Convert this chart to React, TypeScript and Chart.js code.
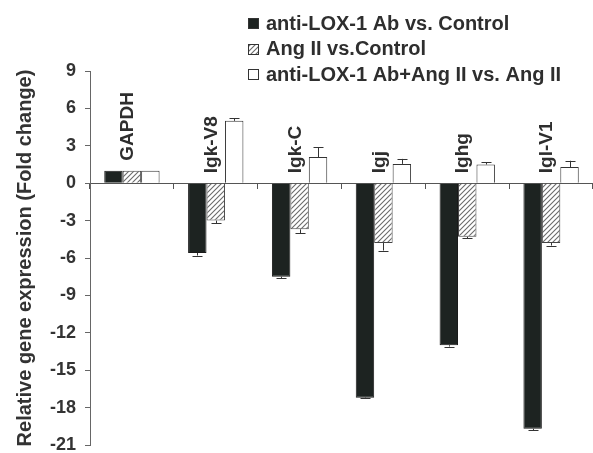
import React, { useEffect, useRef } from "react";
import { Chart, registerables } from "chart.js";

Chart.register(...registerables);

const categories = ["GAPDH", "Igk-V8", "Igk-C", "Igj", "Ighg", "Igl-V1"];
const seriesLabels = [
  "anti-LOX-1 Ab vs. Control",
  "Ang II vs.Control",
  "anti-LOX-1 Ab+Ang II vs. Ang II",
];
const antiLoxVsControl = [1, -5.6, -7.5, -17.2, -13.0, -19.7];
const antiLoxErr = [0, 0.2, 0.1, 0.05, 0.1, 0.1];
const angIIVsControl = [1, -3.0, -3.7, -4.8, -4.3, -4.8];
const angIIErr = [0, 0.2, 0.3, 0.6, 0.1, 0.2];
const combinedVsAngII = [1, 5.0, 2.1, 1.55, 1.5, 1.3];
const combinedErr = [0, 0.2, 0.8, 0.4, 0.2, 0.5];
const yMin = -21;
const yMax = 9;
const yStep = 3;

const FONT = "'Liberation Sans', Arial, sans-serif";

function makeHatch(): CanvasPattern | string {
  const c = document.createElement("canvas");
  const s = 5;
  c.width = s;
  c.height = s;
  const g = c.getContext("2d");
  if (!g) return "#fff";
  g.fillStyle = "#fff";
  g.fillRect(0, 0, s, s);
  g.strokeStyle = "#6a6a6a";
  g.lineWidth = 1.1;
  g.beginPath();
  g.moveTo(0, s);
  g.lineTo(s, 0);
  g.moveTo(-s / 2, s / 2);
  g.lineTo(s / 2, -s / 2);
  g.moveTo(s / 2, s * 1.5);
  g.lineTo(s * 1.5, s / 2);
  g.stroke();
  const p = g.createPattern(c, "repeat");
  return p || "#fff";
}

export default function App() {
  const ref = useRef<HTMLCanvasElement | null>(null);

  useEffect(() => {
    if (!ref.current) return;
    const hatch = makeHatch();
    const errs = [antiLoxErr, angIIErr, combinedErr];

    const errorBars = {
      id: "errorBars",
      afterDatasetsDraw(chart: any) {
        const ctx = chart.ctx;
        const y = chart.scales.y;
        ctx.save();
        ctx.strokeStyle = "#333";
        ctx.lineWidth = 1;
        chart.data.datasets.forEach((ds: any, di: number) => {
          const meta = chart.getDatasetMeta(di);
          ds.data.forEach((v: number, i: number) => {
            const e = errs[di][i];
            if (!e) return;
            const bar = meta.data[i];
            const sign = v >= 0 ? 1 : -1;
            const yEnd = y.getPixelForValue(v + sign * e);
            const x = Math.round(bar.x) + 0.5;
            ctx.beginPath();
            ctx.moveTo(x, bar.y);
            ctx.lineTo(x, yEnd);
            ctx.moveTo(x - 5, Math.round(yEnd) + 0.5);
            ctx.lineTo(x + 5, Math.round(yEnd) + 0.5);
            ctx.stroke();
          });
        });
        ctx.restore();
      },
    };

    const catLabels = {
      id: "catLabels",
      afterDatasetsDraw(chart: any) {
        const ctx = chart.ctx;
        const xs = chart.scales.x;
        const ys = chart.scales.y;
        ctx.save();
        ctx.font = `bold 19px ${FONT}`;
        ctx.fillStyle = "#2e2e2e";
        ctx.textAlign = "left";
        ctx.textBaseline = "middle";
        categories.forEach((c, i) => {
          const anchor = Math.max(0, antiLoxVsControl[i], angIIVsControl[i]);
          const x = xs.getPixelForValue(i) - 4;
          const yy = ys.getPixelForValue(anchor) - 10;
          ctx.save();
          ctx.translate(x, yy);
          ctx.rotate(-Math.PI / 2);
          ctx.fillText(c, 0, 0);
          ctx.restore();
        });
        ctx.restore();
      },
    };

    const customLegend = {
      id: "customLegend",
      afterDraw(chart: any) {
        const ctx = chart.ctx;
        ctx.save();
        ctx.font = `bold 20px ${FONT}`;
        ctx.textAlign = "left";
        ctx.textBaseline = "middle";
        const centers = [23, 48.5, 74];
        chart.data.datasets.forEach((ds: any, di: number) => {
          const cy = centers[di];
          const bx = 248.5;
          const by = Math.round(cy - 5) + 0.5;
          ctx.fillStyle = ds.backgroundColor;
          ctx.fillRect(bx, by, 10, 10);
          ctx.strokeStyle = "#333";
          ctx.lineWidth = 1;
          ctx.strokeRect(bx, by, 10, 10);
          ctx.fillStyle = "#2e2e2e";
          ctx.fillText(ds.label, 266, cy + 1);
        });
        ctx.restore();
      },
    };

    const chart = new Chart(ref.current, {
      type: "bar",
      data: {
        labels: categories,
        datasets: [
          {
            label: seriesLabels[0],
            data: antiLoxVsControl,
            backgroundColor: "#1d2321",
            borderColor: "#1a1a1a",
            borderWidth: 1,
          },
          {
            label: seriesLabels[1],
            data: angIIVsControl,
            backgroundColor: hatch as any,
            borderColor: "#444",
            borderWidth: 1,
          },
          {
            label: seriesLabels[2],
            data: combinedVsAngII,
            backgroundColor: "#ffffff",
            borderColor: "#333",
            borderWidth: 1,
          },
        ],
      },
      options: {
        animation: false,
        responsive: false,
        devicePixelRatio: 1,
        layout: { padding: { top: 71, bottom: 8, left: 0, right: 0 } },
        datasets: {
          bar: { categoryPercentage: 0.66, barPercentage: 1.0 },
        },
        plugins: {
          legend: { display: false },
          tooltip: { enabled: false },
        },
        scales: {
          x: {
            type: "category",
            position: { y: 0 } as any,
            offset: true,
            afterFit: (scale: any) => {
              scale.height = 0;
              scale.paddingTop = 0;
              scale.paddingBottom = 0;
            },
            grid: {
              offset: true,
              drawOnChartArea: false,
              drawTicks: true,
              tickLength: 5,
              color: "#555",
            },
            border: { display: true, color: "#555", width: 1 },
            ticks: { display: false },
          },
          y: {
            min: yMin,
            max: yMax,
            afterFit: (scale: any) => {
              scale.width = 90;
              scale.paddingTop = 0;
              scale.paddingBottom = 0;
            },
            ticks: {
              stepSize: yStep,
              color: "#333",
              padding: 9,
              font: { family: FONT, size: 18, weight: "bold" },
            },
            grid: {
              drawOnChartArea: false,
              drawTicks: true,
              tickLength: 5,
              color: "#666",
            },
            border: { display: true, color: "#666", width: 1 },
            title: {
              display: true,
              text: "Relative gene expression (Fold change)",
              color: "#333",
              font: { family: FONT, size: 20, weight: "bold" },
              padding: { top: 13, bottom: 0 },
            },
          },
        },
      },
      plugins: [errorBars, catLabels, customLegend],
    });
    return () => chart.destroy();
  }, []);

  return (
    <div style={{ position: "absolute", left: 0, top: 0, width: 593, height: 453, background: "#fff" }}>
      <canvas ref={ref} width={593} height={453} />
    </div>
  );
}
